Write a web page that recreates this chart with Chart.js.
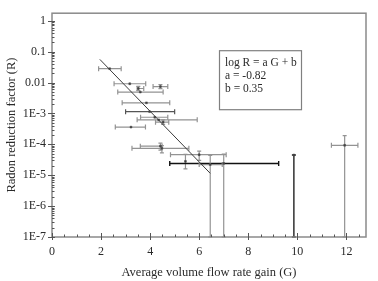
<!DOCTYPE html>
<html>
<head>
<meta charset="utf-8">
<script src="https://cdn.jsdelivr.net/npm/chart.js@4.4.1/dist/chart.umd.min.js"></script>
<style>
  html, body { margin: 0; padding: 0; background: #fff; }
  #wrap { width: 378px; height: 281px; }
</style>
</head>
<body>
<div id="wrap"><canvas id="c" width="378" height="281"></canvas></div>
<script>
// ---- data ----
const gainG   = [2.35, 3.17, 4.42, 3.52, 3.60, 3.85, 3.98, 4.19, 4.35, 4.53, 3.22, 4.42, 4.48, 5.44, 6.00, 7.00, 6.45, 9.86, 11.93];
const factorR = [0.028, 0.0091, 0.0074, 0.0064, 0.0049, 0.0022, 0.00114, 0.00075, 0.00062, 0.00052, 0.00036, 8.7e-5, 7.4e-5, 2.8e-5, 4.6e-5, 2.4e-5, 2.2e-5, 4.5e-5, 9.3e-5];
const gainLow  = [1.90, 2.53, 4.12, 3.47, 2.68, 2.86, 3.00, 3.61, 3.47, 4.22, 2.58, 3.60, 3.26, 5.44, 4.83, 4.80, 6.00, 9.86, 11.39];
const gainHigh = [2.82, 3.82, 4.72, 3.74, 4.53, 4.80, 5.00, 4.72, 5.92, 4.76, 3.81, 4.49, 5.58, 5.44, 7.10, 9.24, 6.94, 9.86, 12.47];
const factorLow  = [0.028, 0.0091, 0.0063, 0.0055, 0.0049, 0.0022, 0.00114, 0.00075, 0.00062, 0.00044, 0.00036, 6.5e-5, 5.3e-5, 1.6e-5, 3.0e-5, 1e-7, 1e-7, 1e-7, 1e-7];
const factorHigh = [0.028, 0.0091, 0.0086, 0.0075, 0.0049, 0.0022, 0.00114, 0.00075, 0.00062, 0.00062, 0.00036, 1.1e-4, 9.0e-5, 4.7e-5, 6.0e-5, 4.8e-5, 4.4e-5, 4.5e-5, 1.9e-4];
const fitG = [1.95, 6.45];
const fitR = [0.056, 1.15e-5];
const fitA = -0.82;
const fitB = 0.35;
const xTickValues = [0, 2, 4, 6, 8, 10, 12];
const yTickValues = [1, 0.1, 0.01, 1e-3, 1e-4, 1e-5, 1e-6, 1e-7];
const yTickLabels = ['1', '0.1', '0.01', '1E-3', '1E-4', '1E-5', '1E-6', '1E-7'];
const darkHBars = [15];
const midHBars = [6];
const darkVBars = [17];

const FONT = "'Liberation Serif', 'Times New Roman', serif";
const TXT = '#2a2a2a';

const frameAndTicks = {
  id: 'frameAndTicks',
  afterDraw(chart) {
    const {ctx, chartArea: a, scales: {x, y}} = chart;
    ctx.save();
    ctx.strokeStyle = '#8a8a8a';
    ctx.lineWidth = 1.5;
    ctx.strokeRect(a.left, a.top, a.right - a.left, a.bottom - a.top);
    ctx.strokeStyle = '#555';
    ctx.lineWidth = 1;
    ctx.beginPath();
    for (let i = 0; i < xTickValues.length; i++) {
      const px = Math.round(x.getPixelForValue(xTickValues[i])) + 0.5;
      ctx.moveTo(px, a.bottom + 3); ctx.lineTo(px, a.bottom - 4);
      for (const f of [0.5, 1, 1.5]) {
        const v = xTickValues[i] + f;
        if (v >= x.max) continue;
        const pm = Math.round(x.getPixelForValue(v)) + 0.5;
        ctx.moveTo(pm, a.bottom); ctx.lineTo(pm, a.bottom - 2.5);
      }
    }
    for (let i = 0; i < yTickValues.length; i++) {
      const py = Math.round(y.getPixelForValue(yTickValues[i])) + 0.5;
      ctx.moveTo(a.left - 4, py); ctx.lineTo(a.left + 3, py);
      for (let m = 2; m <= 9; m++) {
        const v = yTickValues[i] * m;
        if (v > y.max) continue;
        const pm = Math.round(y.getPixelForValue(v)) + 0.5;
        ctx.moveTo(a.left, pm); ctx.lineTo(a.left + 2.5, pm);
      }
    }
    ctx.stroke();
    ctx.restore();
  }
};

const errorBars = {
  id: 'errorBars',
  beforeDatasetsDraw(chart) {
    const {ctx, chartArea: a, scales: {x, y}} = chart;
    ctx.save();
    ctx.beginPath();
    ctx.rect(a.left, a.top, a.right - a.left, a.bottom - a.top + 1);
    ctx.clip();
    for (let i = 0; i < gainG.length; i++) {
      const px = x.getPixelForValue(gainG[i]);
      const py = y.getPixelForValue(factorR[i]);
      if (gainHigh[i] > gainLow[i]) {
        ctx.strokeStyle = darkHBars.includes(i) ? '#111' : (midHBars.includes(i) ? '#555' : '#939393');
        ctx.lineWidth = darkHBars.includes(i) ? 1.4 : 1.2;
        const x1 = x.getPixelForValue(gainLow[i]);
        const x2 = x.getPixelForValue(gainHigh[i]);
        ctx.beginPath();
        ctx.moveTo(x1, py); ctx.lineTo(x2, py);
        ctx.moveTo(x1, py - 2.5); ctx.lineTo(x1, py + 2.5);
        ctx.moveTo(x2, py - 2.5); ctx.lineTo(x2, py + 2.5);
        ctx.stroke();
      }
      if (factorHigh[i] > factorLow[i]) {
        ctx.strokeStyle = darkVBars.includes(i) ? '#222' : '#939393';
        ctx.lineWidth = darkVBars.includes(i) ? 1.4 : 1.2;
        const y1 = y.getPixelForValue(factorHigh[i]);
        const y2 = y.getPixelForValue(factorLow[i]);
        ctx.beginPath();
        ctx.moveTo(px, y1); ctx.lineTo(px, y2);
        ctx.moveTo(px - 2, y1); ctx.lineTo(px + 2, y1);
        ctx.moveTo(px - 2, y2); ctx.lineTo(px + 2, y2);
        ctx.stroke();
      }
    }
    ctx.restore();
  }
};

const fitBox = {
  id: 'fitBox',
  afterDraw(chart) {
    const {ctx, chartArea: a} = chart;
    const left = a.left + 167, top = a.top + 37, w = 82, h = 59;
    ctx.save();
    ctx.fillStyle = '#fff';
    ctx.fillRect(left, top, w, h);
    ctx.strokeStyle = '#808080';
    ctx.lineWidth = 1.2;
    ctx.strokeRect(left + 0.5, top + 0.5, w, h);
    ctx.fillStyle = TXT;
    ctx.font = '11.5px ' + FONT;
    ctx.textBaseline = 'middle';
    ctx.fillText('log R = a G + b', left + 6, top + 13);
    ctx.fillText('a = ' + fitA.toFixed(2), left + 6, top + 26);
    ctx.fillText('b = ' + fitB.toFixed(2), left + 6, top + 39);
    ctx.restore();
  }
};

new Chart(document.getElementById('c'), {
  type: 'scatter',
  data: {
    datasets: [
      {
        label: 'fit',
        type: 'line',
        data: fitG.map((g, i) => ({x: g, y: fitR[i]})),
        borderColor: '#3a3a3a',
        borderWidth: 1,
        pointRadius: 0,
        fill: false
      },
      {
        label: 'R',
        data: gainG.map((g, i) => ({x: g, y: factorR[i]})),
        pointStyle: 'rect',
        pointRadius: 1.3,
        backgroundColor: '#444',
        borderColor: '#444',
        borderWidth: 0.5
      }
    ]
  },
  options: {
    responsive: false,
    animation: false,
    events: [],
    layout: { padding: { top: 7, right: 12, bottom: 0, left: 0 } },
    plugins: { legend: { display: false }, tooltip: { enabled: false } },
    scales: {
      x: {
        type: 'linear',
        min: 0,
        max: 12.8,
        afterBuildTicks(s) { s.ticks = xTickValues.map(v => ({value: v})); },
        afterFit(s) { s.height = 44; },
        grid: { display: false, drawTicks: false },
        border: { display: false },
        ticks: {
          autoSkip: false,
          maxRotation: 0,
          padding: 8,
          color: TXT,
          font: { family: FONT, size: 12 },
          callback: (v) => String(v)
        },
        title: {
          display: true,
          text: 'Average volume flow rate gain (G)',
          color: TXT,
          font: { family: FONT, size: 12.5 },
          padding: { top: 0, bottom: 1 }
        }
      },
      y: {
        type: 'logarithmic',
        min: 1e-7,
        max: 1.75,
        afterBuildTicks(s) { s.ticks = yTickValues.map(v => ({value: v})); },
        afterFit(s) { s.width = 52; },
        grid: { display: false, drawTicks: false },
        border: { display: false },
        ticks: {
          autoSkip: false,
          padding: 6,
          color: TXT,
          font: { family: FONT, size: 12 },
          callback: (v) => { const k = yTickValues.indexOf(v); return k >= 0 ? yTickLabels[k] : ''; }
        },
        title: {
          display: true,
          text: 'Radon reduction factor (R)',
          color: TXT,
          font: { family: FONT, size: 12.5 },
          padding: { top: 4, bottom: 0 }
        }
      }
    }
  },
  plugins: [errorBars, frameAndTicks, fitBox]
});
</script>
</body>
</html>
